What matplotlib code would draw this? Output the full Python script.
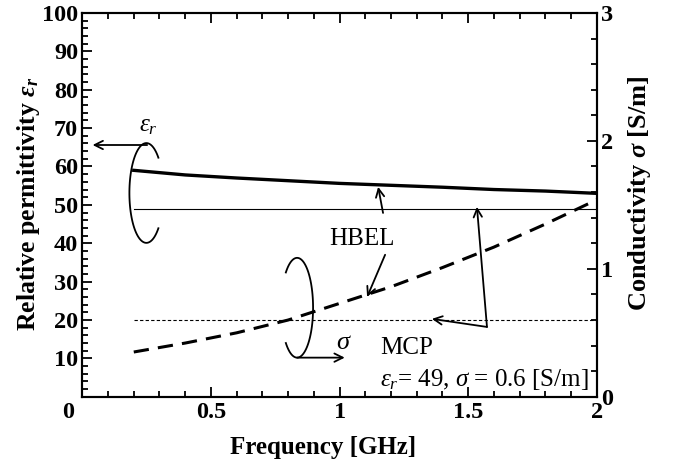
import numpy as np
import matplotlib.pyplot as plt
from matplotlib.ticker import MultipleLocator
import matplotlib.transforms as mtransforms

plt.rcParams['font.family'] = 'Liberation Serif'
plt.rcParams['mathtext.fontset'] = 'custom'
plt.rcParams['mathtext.rm'] = 'Liberation Serif'
plt.rcParams['mathtext.it'] = 'Liberation Serif:italic'
plt.rcParams['mathtext.bf'] = 'Liberation Serif:bold'
plt.rcParams['mathtext.bfit'] = 'Liberation Serif:bold:italic'

# data
freq = [0.2, 0.4, 0.6, 0.8, 1.0, 1.2, 1.4, 1.6, 1.8, 2.0]
eps_hbel = [59.0, 57.8, 57.0, 56.3, 55.6, 55.1, 54.6, 54.0, 53.6, 53.0]
sigma_hbel = [0.35, 0.42, 0.50, 0.60, 0.73, 0.86, 1.01, 1.17, 1.35, 1.54]
mcp_freq = [0.2, 2.0]
eps_mcp = 49
sigma_mcp = 0.6

fig, ax = plt.subplots(figsize=(6.86, 4.63), dpi=100)
fig.subplots_adjust(left=0.12, right=0.87, top=0.972, bottom=0.143)
ax2 = ax.twinx()

ax.plot(freq, eps_hbel, color='black', lw=2.4)
ax.plot(mcp_freq, [eps_mcp, eps_mcp], color='black', lw=0.8)
ax2.plot(freq, sigma_hbel, color='black', lw=2.2, dashes=(5, 3))
ax2.plot(mcp_freq, [sigma_mcp, sigma_mcp], color='black', lw=0.8, dashes=(3, 2))

ax.set_xlim(0, 2)
ax.set_ylim(0, 100)
ax2.set_ylim(0, 3)

ax.set_xticks([0, 0.5, 1, 1.5, 2])
ax.set_xticklabels(['0', '0.5', '1', '1.5', '2'])
ax.set_yticks(range(10, 101, 10))
ax.xaxis.set_minor_locator(MultipleLocator(0.1))
ax.yaxis.set_minor_locator(MultipleLocator(2))
ax2.set_yticks([0, 1, 2, 3])
ax2.yaxis.set_minor_locator(MultipleLocator(0.2))

ax.tick_params(which='both', direction='in', top=True, width=1.3, labelsize=17.5)
ax.tick_params(which='major', length=7)
ax.tick_params(axis='x', which='major', pad=4)
ax.tick_params(axis='y', which='major', pad=3)
ax.tick_params(which='minor', length=4)
ax2.tick_params(which='both', direction='in', width=1.3, labelsize=17.5)
ax2.tick_params(which='major', length=7, pad=3)
ax2.tick_params(which='minor', length=4)
for lab in ax.get_xticklabels() + ax.get_yticklabels() + ax2.get_yticklabels():
    lab.set_fontweight('bold')
# shift the x "0" label to the corner
lab0 = ax.get_xticklabels()[0]
lab0.set_transform(lab0.get_transform() + mtransforms.ScaledTranslation(-0.14, 0, fig.dpi_scale_trans))

for a in (ax, ax2):
    for s in a.spines.values():
        s.set_linewidth(1.5)

ax.set_xlabel('Frequency [GHz]', fontsize=18, fontweight='bold')
ax.xaxis.set_label_coords(0.468, -0.102)
ax.set_ylabel(r'Relative permittivity $\mathbfit{\varepsilon}_{\mathbfit{r}}$', fontsize=18.5,
              fontweight='bold')
ax.yaxis.set_label_coords(-0.078, 0.504)
ax2.set_ylabel(r'Conductivity $\mathbfit{\sigma}$ [S/m]', fontsize=19, fontweight='bold')
ax2.yaxis.set_label_coords(1.057, 0.53)

arrow_kw = dict(arrowstyle='->', color='black', lw=1.3, mutation_scale=15,
                shrinkA=0, shrinkB=0)

# permittivity loop and arrow
t = np.radians(np.linspace(45, 315, 80))
ax.plot(0.249 + 0.066 * np.cos(t), 53.1 + 13.0 * np.sin(t), color='black', lw=1.3)
ax.annotate('', xy=(0.04, 65.6), xytext=(0.252, 65.6), arrowprops=arrow_kw)
ax.text(0.255, 70.5, r'$\varepsilon_r$', fontsize=18, ha='center', va='center')

# conductivity loop and arrow
t = np.radians(np.linspace(-135, 135, 80))
ax.plot(0.835 + 0.062 * np.cos(t), 23.2 + 13.0 * np.sin(t), color='black', lw=1.3)
ax.annotate('', xy=(1.02, 10.2), xytext=(0.835, 10.2), arrowprops=arrow_kw)
ax.text(1.015, 14.0, r'$\sigma$', fontsize=19, ha='center', va='center')

# HBEL labels
ax.text(1.087, 41.0, 'HBEL', fontsize=18, ha='center', va='center')
ax.annotate('', xy=(1.150, 54.7), xytext=(1.169, 47.9), arrowprops=arrow_kw)
ax.annotate('', xy=(1.107, 26.0), xytext=(1.177, 37.0), arrowprops=arrow_kw)

# MCP labels
ax.annotate('', xy=(1.534, 49.5), xytext=(1.573, 18.2), arrowprops=arrow_kw)
ax.annotate('', xy=(1.359, 20.3), xytext=(1.573, 18.2), arrowprops=arrow_kw)
ax.text(1.157, 12.8, 'MCP', fontsize=18, ha='left', va='center')
ax.text(1.157, 4.4, r'$\varepsilon_r$= 49, $\sigma$ = 0.6 [S/m]', fontsize=18,
        ha='left', va='center')

fig.savefig('out.png', dpi=100)
